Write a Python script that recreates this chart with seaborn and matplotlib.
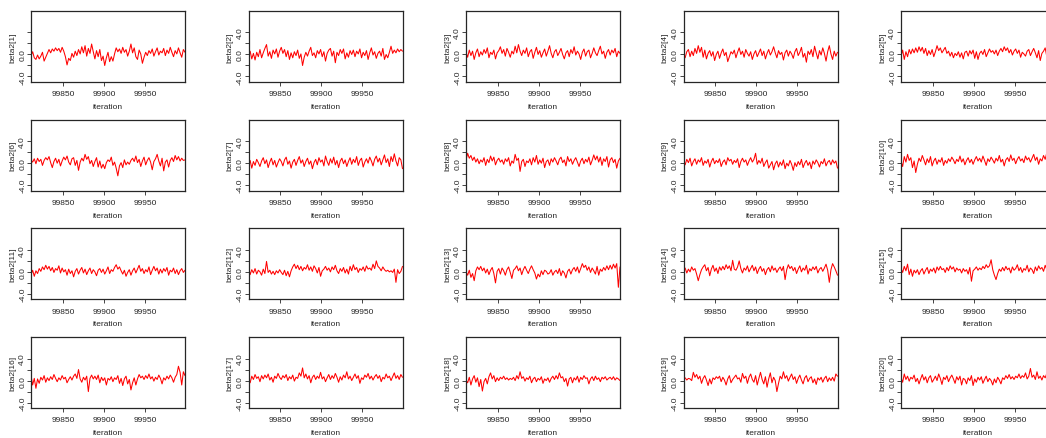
import numpy as np
import pandas as pd
import seaborn as sns
import matplotlib
matplotlib.use("Agg")
import matplotlib.pyplot as plt

# iterations kept (every other draw of the last 190)
iterations = list(range(99811, 100000, 2))

b1 = [-0.2, 0.5, -0.6, -0.9, -0.1, -0.8, -0.3, 0.4, -1.2, -0.5,
      0.2, 0.9, 0.3, 1.0, 0.6, 1.2, 0.7, 1.1, 0.4, 1.3,
      0.6, -0.4, -1.9, -0.7, -1.1, 0.2, -0.5, 0.6, -0.2, 0.9,
      0.1, 1.4, 0.3, 1.6, -0.3, 1.1, 0.2, 1.9, 0.5, -0.8,
      0.7, -0.4, 0.9, -1.1, -0.3, -2.0, -0.6, 0.4, -1.3, -0.4,
      -1.2, 0.1, 1.2, 0.5, 1.0, 0.2, 1.3, 0.4, 0.9, -0.3,
      0.6, 1.9, 0.3, 1.2, -0.4, -0.9, 0.8, 0.1, -1.6, -0.5,
      0.4, -0.2, 0.7, 0.2, 1.0, -0.3, 0.5, 1.2, -0.1, 0.6,
      0.3, 1.1, -0.2, 0.8, 0.2, 1.3, 0.4, -0.4, 0.7, 0.1,
      1.2, 0.3, -0.5, 0.9, 0.4]
b2 = [-0.1, 0.6, -0.8, 0.2, -1.0, 0.4, -0.4, 0.9, -0.6, 0.3,
      1.1, 1.8, -0.3, 0.5, -0.7, 0.8, 0.1, 1.0, -0.5, 0.6,
      1.3, 0.2, 0.9, -0.4, 0.7, -0.9, 0.3, -0.6, 0.5, -0.2,
      0.8, -0.7, 0.1, -2.0, -0.5, 0.4, -0.3, 0.6, 1.3, -0.2,
      0.3, -0.6, 0.7, 0.1, 0.9, -0.4, 0.5, -1.2, 0.2, 0.8,
      1.1, -0.3, 0.6, -1.5, 0.4, -0.2, 0.9, 0.2, 1.0, -0.8,
      0.3, -0.5, 0.7, 0.0, 0.8, -0.4, 0.6, 0.1, 1.0, -0.6,
      0.4, -0.2, 0.7, -0.9, 0.3, 1.2, -0.1, 0.5, -0.7, 0.2,
      0.6, -0.3, 1.1, -0.9, 0.0, -0.6, 0.4, 1.5, 0.2, 0.8,
      0.3, 1.0, 0.5, 0.9, 0.6]
b3 = [0.4, -0.5, 0.8, -0.2, 0.6, -0.9, 0.3, 1.0, -0.4, 0.5,
      -0.1, 0.9, 0.2, 1.2, -0.6, 0.4, 0.0, 0.8, -0.8, 0.3,
      0.7, 1.4, 0.2, 0.9, -0.3, 1.1, 0.4, -0.5, 0.6, 0.1,
      1.5, 0.3, 1.8, 0.6, -0.2, 0.8, 0.2, 1.2, -0.4, 0.5,
      0.9, -0.7, 0.4, 1.3, 0.0, 0.7, -0.5, 0.3, 1.0, -0.3,
      0.6, 1.6, 0.2, -0.6, 0.5, 0.9, -0.2, 0.4, 1.1, 0.0,
      -0.8, 0.3, 0.7, -0.4, 0.9, 0.2, 1.4, -0.1, 0.6, 0.1,
      -0.9, 0.4, 1.0, -0.3, 0.5, 0.8, -0.6, 0.2, 1.2, 0.3,
      -0.2, 0.7, 1.5, 0.1, 0.6, -0.7, 0.4, 0.9, -0.1, 0.8,
      0.3, 1.1, -0.4, 0.6, 0.2]
b4 = [0.3, -0.6, 0.5, 0.9, -0.4, 0.6, -0.2, 1.1, 0.2, 1.6,
      0.4, 1.3, -0.5, 0.8, -0.8, 0.2, 0.7, -0.3, 0.5, -1.1,
      0.0, 0.6, -0.7, 0.3, 1.0, -0.2, 0.4, -1.3, -0.4, 0.5,
      0.1, 0.8, -0.6, 0.4, 1.2, 0.0, 0.6, -0.5, 0.9, 0.2,
      -0.3, 0.5, -0.9, 0.1, 0.7, -0.4, 0.3, 1.0, -0.2, 0.6,
      -0.8, 0.2, 0.9, -0.1, 0.5, 1.4, 0.3, -0.6, 0.7, 0.0,
      0.4, -1.0, 0.3, 0.8, -0.3, 0.6, 0.1, -0.7, 0.5, 1.1,
      -0.2, 0.4, 1.3, -0.5, 0.2, -1.4, 0.6, 0.0, 0.9, -0.4,
      1.5, 0.3, -0.8, 0.7, -0.1, 1.2, 0.2, -1.2, 0.5, 1.6,
      0.1, -0.9, 0.6, -0.3, 0.4]
b5 = [-0.3, 0.8, -0.9, 0.5, -0.4, 0.9, 0.1, 1.0, 0.3, 1.2,
      0.4, 1.4, 0.6, 1.3, 0.2, 1.1, -0.2, 0.7, 0.0, 0.9,
      -0.4, 0.5, 1.6, 0.7, 1.2, 0.3, 0.8, 1.3, 0.2, 0.6,
      -0.3, 0.4, -0.6, 0.2, -0.2, 0.5, -0.5, 0.3, -0.8, 0.4,
      0.6, -0.3, 0.7, 0.1, 0.8, -0.7, 0.5, -0.9, 0.2, 0.6,
      0.0, 0.9, -0.4, 0.3, 1.0, 0.4, 0.7, 0.1, 0.8, -0.2,
      0.6, 1.1, 0.5, 1.4, 0.7, 1.2, 0.3, 0.9, -0.1, 0.6,
      1.0, 0.2, 0.8, -0.5, 0.4, 0.1, -0.3, 0.6, 0.9, -0.2,
      0.5, 1.1, 0.3, -0.6, 0.7, -1.1, 0.2, 0.6, 1.2, -0.4,
      0.9, 0.5, 1.3, 0.2, 0.8]
b6 = [0.6, 0.2, 0.8, -0.1, 0.9, 0.3, 0.7, -0.4, 0.5, 1.0,
      0.6, 1.2, 0.1, -0.8, 0.3, 0.9, 0.0, 0.7, -0.5, 0.4,
      1.1, 0.6, 1.3, 0.2, -0.3, 0.8, 1.0, -0.4, 0.5, -1.3,
      0.2, 0.9, 0.4, 1.6, 0.7, 1.2, -0.1, 0.5, -0.6, 0.3,
      1.0, -0.7, 0.4, -0.9, -0.2, -1.0, 0.1, 0.6, 0.3, 1.1,
      -0.4, 0.2, -0.9, -2.3, -0.5, 0.1, -0.8, 0.6, -0.3, 0.2,
      -0.2, 0.5, 0.9, 0.3, 1.3, 0.1, 0.7, -0.6, 0.4, 1.1,
      -0.3, 0.5, 1.0, 0.2, -1.2, 0.3, 0.8, 1.6, 0.4, -0.5,
      0.9, -1.4, 0.2, 0.6, -0.7, 0.5, 1.0, 0.3, 1.4, 0.6,
      1.2, 0.4, 0.9, 0.5, 0.6]
b7 = [-0.2, 0.5, -0.9, 0.3, -0.4, 0.7, 0.1, -0.6, 0.4, 1.0,
      -0.1, 0.6, -0.8, 0.2, 0.9, -0.3, 0.5, -0.7, 0.1, 0.8,
      0.3, -0.5, 0.6, 1.1, -0.2, 0.4, -0.9, 0.2, 0.7, -0.4,
      0.5, 1.2, 0.0, 0.6, -0.6, 0.3, 0.9, -0.2, 0.4, -1.0,
      0.1, 0.7, -0.3, 1.0, 0.2, 0.6, -0.5, 1.3, 0.3, -0.4,
      0.8, 0.0, 1.1, -0.3, 0.5, -0.8, 0.4, 0.9, -0.1, 0.6,
      -0.6, 0.3, 1.0, -0.2, 0.7, 0.1, 1.2, -0.4, 0.5, 0.9,
      -0.7, 0.2, 0.8, 0.0, 1.1, 0.4, -0.5, 0.7, 1.3, 0.2,
      0.9, -0.3, 0.6, 1.5, 0.1, 0.8, -0.6, 1.2, 0.3, 1.7,
      0.4, -0.5, 1.0, 0.6, -1.0]
b8 = [0.6, 1.8, 0.9, 1.4, 0.5, 1.1, 0.2, 0.8, -0.1, 0.6,
      0.2, 1.0, -0.4, 0.7, 0.1, 1.3, 0.4, 1.1, -0.3, 0.5,
      0.9, 0.2, 0.6, -0.2, 0.8, 0.3, 1.0, -0.5, 0.4, 0.0,
      1.6, 0.5, 0.9, -1.5, 0.3, 0.7, -0.6, 0.4, 0.1, 0.8,
      -0.3, 1.0, 0.2, 1.4, -0.2, 0.6, 0.0, 0.9, -0.8, 0.3,
      0.6, -0.4, 0.8, 0.2, 1.0, 0.4, -0.3, 0.7, 1.1, 0.1,
      0.6, -0.5, 1.2, 0.3, 0.8, -0.2, 0.5, 1.0, 0.2, -0.6,
      0.4, 0.9, -0.1, 0.7, 0.2, 1.1, -0.3, 0.5, 1.5, 0.6,
      1.3, 0.2, 1.1, -0.4, 0.8, 0.3, 1.2, -0.7, 0.6, 1.0,
      0.1, 0.7, -0.9, 0.4, 0.9]
b9 = [0.5, -0.3, 0.7, 0.1, 0.9, -0.5, 0.3, 0.8, -0.2, 0.6,
      0.2, 1.0, -0.4, 0.4, 0.0, 0.7, -0.7, 0.3, 0.9, -0.1,
      0.5, 0.1, 0.8, -0.6, 0.2, 0.6, -0.3, 1.0, 0.4, 0.7,
      -0.2, 0.5, 0.1, 0.8, -0.8, 0.3, 0.9, 0.2, 0.6, -0.4,
      0.4, 1.0, 0.2, 0.7, 1.8, -0.2, 0.5, 0.0, 0.9, -0.6,
      0.1, 0.6, -0.9, -0.3, 0.3, -1.2, -0.1, 0.4, -0.7, 0.2,
      -0.4, 0.6, -1.0, 0.0, -0.5, 0.5, -0.2, -1.3, 0.1, -0.6,
      0.3, -0.3, 0.7, -0.8, 0.0, 0.5, -0.4, 0.2, -1.0, 0.4,
      -0.2, 0.6, 0.1, -0.7, 0.3, -0.1, 0.8, -0.5, 0.2, 0.5,
      -0.3, 0.6, 0.0, 0.4, -0.9]
b10 = [0.3, -0.6, 1.2, 0.2, 1.6, 0.5, 1.0, -0.8, 0.4, -1.7,
       -0.2, 0.9, 0.3, 1.4, 0.6, -0.3, 0.8, 0.1, 1.2, -0.5,
       0.4, 0.9, -0.2, 0.6, 0.2, 1.0, -0.4, 0.5, 0.0, 0.8,
       0.3, 1.1, 0.6, -0.1, 0.7, 0.3, 1.3, 0.2, 0.8, -0.3,
       0.5, 1.0, 0.1, 0.7, -0.2, 0.6, 1.2, 0.4, 0.9, 0.2,
       1.3, 0.5, -0.4, 0.8, 0.3, 1.1, 0.6, 0.0, 0.9, 0.4,
       1.4, 0.2, 0.7, -0.5, 0.6, 1.0, 0.3, 1.5, 0.5, 0.9,
       -0.1, 0.7, 1.2, 0.4, 0.8, 0.1, 1.3, 0.6, 1.0, 0.2,
       0.9, 1.6, 0.5, 1.1, -0.2, 0.8, 0.4, 1.4, 0.7, 1.9,
       0.6, 1.2, 0.3, 1.0, 0.5]
b11 = [-0.5, 0.3, -0.8, 0.2, -0.3, 0.6, 0.1, 0.9, 0.4, 1.2,
       0.5, 1.0, 0.2, 0.8, -0.1, 0.6, 0.3, 1.1, -0.2, 0.7,
       0.0, 0.4, -0.6, 0.5, -0.3, 0.2, -0.9, 0.1, 0.6, -0.4,
       0.3, 0.8, -0.2, 0.5, -0.5, 0.2, 0.7, -0.3, 0.4, 0.0,
       -0.7, 0.3, 0.6, -0.1, 0.5, -0.4, 0.2, 0.9, -0.3, 0.4,
       0.1, 0.8, 1.3, 0.5, 0.9, 0.2, -0.4, 0.3, -0.8, -0.1,
       0.4, -0.6, 0.2, 0.7, -0.2, 0.5, 1.2, 0.1, 0.6, -0.3,
       0.4, 0.0, 0.9, -0.5, 0.3, 1.0, 0.2, 0.7, -0.4, 0.5,
       -0.2, 0.6, 0.1, 0.8, -0.6, 0.3, 0.0, 0.7, -0.3, 0.4,
       -0.5, 0.2, 0.6, -0.1, 0.3]
b12 = [0.8, -0.5, 0.4, -0.2, 0.6, -0.4, 0.3, 0.0, -0.6, 0.5,
       -0.3, 1.9, -0.1, 0.3, -0.4, 0.1, -0.5, 0.2, -0.2, 0.4,
       -0.1, -0.5, 0.3, -0.7, 0.1, -0.9, 0.2, 0.9, 1.4, 0.6,
       1.2, 0.4, 1.0, 0.2, 0.8, 0.5, 1.3, 0.3, 0.9, 0.1,
       1.1, 0.6, -0.2, 0.8, -0.8, 0.2, 0.5, 1.0, 0.3, 0.7,
       0.0, 0.9, 0.4, 1.2, 0.2, -0.3, 0.6, 0.1, 0.8, -0.2,
       0.5, -0.4, 1.0, 0.2, 1.3, 0.4, 0.8, -0.1, 0.6, 0.3,
       0.9, 0.1, 1.1, 0.5, 0.7, 0.3, 1.4, 0.6, 2.0, 1.0,
       0.7, 0.2, 0.9, 0.4, 0.1, 0.3, 0.0, 0.2, -0.1, 0.5,
       -1.9, 0.4, -0.3, 0.1, 1.0]
b13 = [0.0, -0.6, 0.3, -1.0, -0.3, -1.6, 0.2, 0.9, 0.4, 1.0,
       0.2, 0.7, -0.2, 0.5, -0.5, 0.3, 0.8, -0.3, -2.0, 0.1,
       0.6, -0.4, 0.7, 0.2, -0.6, 0.4, 0.9, -0.1, -1.2, 0.3,
       0.6, 1.1, 0.2, 0.7, -0.5, 0.4, 1.0, 0.3, -0.3, 0.5,
       1.1, 0.4, -0.2, -1.3, -0.4, -0.9, 0.2, -0.5, 0.3, 0.1,
       -0.4, -0.2, 0.4, -0.6, 0.0, 0.3, -0.3, 0.6, -0.7, 0.2,
       -0.2, -1.1, 0.1, 0.5, -0.4, 0.4, 0.8, 0.1, 0.9, -0.2,
       0.6, 1.5, 0.8, 1.2, 0.3, 0.9, -0.1, 0.7, 0.2, -0.4,
       1.0, -0.6, 0.5, 0.1, 0.8, 0.3, 1.1, 0.4, 1.2, 0.5,
       1.4, 0.7, 1.5, -2.8, 0.9]
b14 = [0.1, 0.7, -0.2, 0.5, 0.0, 0.9, 0.3, 0.6, -0.4, -1.6,
       -0.5, 0.4, 0.9, 1.3, 0.2, 0.8, -0.7, 0.5, 1.2, 0.1,
       0.7, -0.3, 0.9, 0.3, 1.0, 0.4, 1.3, 0.6, 1.1, 0.2,
       2.1, 0.5, 0.3, 0.9, 2.0, 0.6, -0.2, 0.7, 0.3, 1.1,
       0.0, 0.6, 1.2, 0.2, 0.9, -0.3, 0.5, 1.0, 0.1, 0.6,
       -0.5, 0.4, 0.8, 0.0, 1.1, 0.3, 0.7, -0.1, 0.5, 0.9,
       0.2, 1.0, -1.4, 0.4, 1.3, 0.6, 1.0, 0.2, 0.8, -0.3,
       0.5, 1.1, 0.0, 0.7, 0.3, 1.2, -0.4, 0.6, 0.2, 0.9,
       0.4, 1.0, -0.2, 0.5, 0.8, 0.1, 0.7, 1.4, 0.3, -1.9,
       0.4, 1.5, 0.9, 0.2, -0.6]
b15 = [0.6, -0.1, 1.0, 0.2, 1.4, -0.5, 0.5, -0.8, 0.3, -0.2,
       0.4, -0.5, 0.2, 0.6, -0.4, 0.3, 0.8, -0.3, 0.5, 0.1,
       0.7, -0.2, 0.9, 0.3, 1.0, 0.4, 0.6, -0.1, 0.8, 0.2,
       1.1, 0.5, 0.9, 0.0, 0.7, 0.3, 0.5, -0.2, 0.6, 0.1,
       0.4, -0.4, 0.8, -1.7, 0.2, 0.5, 0.9, 0.3, 0.7, 0.4,
       1.0, 0.6, 1.3, 0.8, 1.1, 2.2, 0.4, -0.6, -1.4, -0.3,
       0.5, 0.1, 0.8, 0.2, 1.0, 0.4, 0.7, -0.2, 0.9, 0.3,
       0.6, 1.3, 0.2, 0.8, -0.1, 0.6, 0.3, 1.2, 0.0, 0.7,
       0.4, -0.3, 0.9, 0.2, 1.1, 0.5, 0.8, 0.1, 1.2, 0.4,
       0.9, 0.3, 1.0, 0.6, 0.8]
b16 = [0.9, -0.8, 0.4, -1.4, 0.3, -0.5, 0.6, 0.1, 0.9, -0.3,
       0.5, 0.0, 0.7, 0.2, 1.1, 0.4, -0.2, 0.5, 0.1, 0.9,
       0.3, 0.6, -0.4, 0.2, 0.7, 0.1, 0.8, 1.2, 0.4, 2.0,
       0.3, -0.3, 0.6, 0.1, 0.8, -2.0, 0.4, 1.0, 0.3, 0.8,
       0.2, 1.0, -0.4, 0.6, 0.0, 0.5, -0.8, 0.4, 0.1, 0.7,
       -0.2, 0.5, 0.2, 0.9, -0.5, 0.4, -0.9, 0.3, 0.8, -0.6,
       0.2, -1.7, -0.4, 0.5, -0.8, 0.3, 1.1, 0.5, 0.8, 0.2,
       0.9, 0.4, 1.2, 0.3, 0.7, -0.1, 0.6, 0.2, 1.0, 0.4,
       -0.6, 0.5, 0.1, 0.8, 0.3, 1.0, 0.5, -0.3, 0.6, 1.1,
       2.6, 1.5, -0.8, 1.6, 0.9]
b17 = [0.5, -0.4, 0.8, 0.2, 1.1, 0.4, 0.7, -0.2, 0.9, 0.3,
       1.0, 0.5, 1.2, 0.1, 0.6, -0.3, 0.8, 0.4, 1.3, 0.6,
       0.2, 0.9, 0.5, 1.1, 0.0, 0.7, 0.3, 1.0, -0.1, 0.6,
       0.4, 1.4, 0.8, 2.3, 0.5, 1.2, 0.3, 0.9, -0.4, 0.6,
       1.0, 0.2, 0.8, 0.4, 1.5, 0.3, 0.7, -0.2, 0.5, 1.1,
       0.2, 0.9, 0.4, 1.3, 0.6, -0.3, 0.7, 0.1, 1.0, 0.5,
       1.6, 0.3, 0.8, 0.0, 0.6, 1.2, 0.4, 0.9, -0.5, 0.5,
       0.2, 1.0, 0.6, 1.3, 0.3, 0.8, 0.1, 0.7, 1.1, 0.4,
       0.9, -0.2, 0.6, 0.3, 1.2, 0.5, 0.8, 0.0, 0.7, 1.4,
       0.4, 0.9, 0.2, 1.1, 0.6]
b18 = [0.1, -0.4, 0.6, -0.8, 0.3, 0.9, -0.3, 0.5, -1.1, 0.2,
       -1.9, -0.2, 0.4, -0.6, 0.7, 1.4, 0.3, 0.9, -0.2, 0.5,
       0.0, 0.6, 0.3, 0.8, 0.2, 0.5, 0.1, 0.4, 0.2, 0.6,
       0.0, 0.9, 0.3, 1.6, 0.4, 0.7, -0.1, 0.5, 0.2, 0.8,
       -0.4, 0.3, 0.6, -0.2, 0.4, 0.1, 0.7, -0.5, 0.3, 0.0,
       0.5, -0.3, 0.4, 0.8, 0.2, 0.9, 0.3, 1.4, 0.5, 0.7,
       -0.2, 0.4, -1.0, 0.3, 0.6, -0.4, 0.5, 0.1, 0.8, -0.3,
       0.6, 0.2, 0.9, 0.4, 0.5, -0.6, 0.3, 0.7, 0.0, 0.8,
       0.2, 0.5, -0.2, 0.6, 0.3, 0.7, 0.1, 0.4, 0.6, 0.2,
       0.7, 0.1, 0.5, 0.3, 0.0]
b19 = [0.2, 0.5, 0.1, 0.4, 0.3, 0.0, 1.5, 0.6, 1.1, 0.3,
       0.8, -0.5, 0.4, 0.9, 0.1, -0.9, 0.3, -0.6, 0.5, 0.2,
       0.7, 0.4, 0.8, -0.2, 0.6, 0.1, -0.8, 0.3, 0.9, -0.4,
       0.2, 0.6, 1.0, 0.3, 0.5, -0.3, 1.3, 0.4, 0.8, -0.5,
       0.6, 1.2, 0.2, -0.3, 0.9, -0.8, 0.4, 1.5, 0.2, -0.6,
       0.7, -1.2, 0.3, 1.4, -0.4, 0.6, 0.0, -2.0, -0.5, 0.8,
       0.3, 1.6, 0.4, 0.9, -0.1, 0.6, 1.2, 0.2, 0.7, -0.5,
       0.4, 1.0, 0.1, -0.6, 0.5, 0.9, -0.2, 0.4, 0.7, -0.4,
       0.3, -0.7, 0.5, 0.1, 0.6, -0.3, 0.4, 0.8, -0.2, 0.5,
       0.0, 0.6, -0.1, 1.2, 0.8]
b20 = [0.5, -0.3, 1.2, 0.2, 0.8, -0.1, 0.6, 0.3, 1.0, -0.2,
       0.4, -0.6, 0.3, 1.1, 0.1, 0.7, -0.4, 0.5, 0.9, -0.3,
       0.2, 0.8, 0.0, 1.2, 0.4, -0.7, 0.6, 0.2, 0.9, -0.2,
       0.5, 1.0, 0.3, -0.5, 0.7, 0.1, 0.8, -0.8, 0.4, 0.2,
       -0.6, 0.5, 0.0, 0.9, -0.9, 0.3, -0.3, 0.6, 0.1, 0.7,
       -0.5, 0.2, 0.8, -0.2, 0.4, 0.0, -0.8, 0.3, -0.4, 0.6,
       0.1, -0.6, 0.5, 0.2, 0.9, 0.4, 1.1, 0.3, 0.7, 0.2,
       0.8, 0.5, 1.2, 0.4, 0.9, 0.6, 1.4, 0.3, 0.8, 2.2,
       0.6, 1.0, 0.2, 1.6, 0.4, 0.8, 0.1, 0.9, 0.5, 1.3,
       0.3, 0.7, 0.2, 1.0, 0.5]

series = [b1, b2, b3, b4, b5, b6, b7, b8, b9, b10,
          b11, b12, b13, b14, b15, b16, b17, b18, b19, b20]
names = ['beta2[%d]' % (k + 1) for k in range(20)]

ytick_vals = [-4, -2, 0, 2, 4]
ytick_labels = ['-4.0', '', '0.0', '', '4.0']
xtick_vals = [99850, 99900, 99950]

sns.set_style('white')
plt.rcParams['font.family'] = ['Liberation Sans', 'DejaVu Sans']

W, H = 1046, 439
AW, AH = 154, 71
fig = plt.figure(figsize=(W / 100, H / 100), dpi=100)

ink = '#262626'
fs = 6

for k, (vals, name) in enumerate(zip(series, names)):
    r, c = divmod(k, 5)
    left = 31 + 217.5 * c
    top = 12 + 108.7 * r
    ax = fig.add_axes([left / W, 1 - (top + AH) / H, AW / W, AH / H])

    df = pd.DataFrame({'iteration': iterations[:len(vals)], 'value': vals})
    sns.lineplot(data=df, x='iteration', y='value', color='#ff0000',
                 linewidth=0.75, ax=ax)

    ax.set_xlim(99811, 99999)
    ax.set_ylim(-5.0, 7.9)
    ax.set_xticks(xtick_vals)
    ax.set_xticklabels([str(v) for v in xtick_vals])
    ax.set_yticks(ytick_vals)
    labels = list(ytick_labels)
    if k == 0:
        labels[-1] = ''
    ax.set_yticklabels(labels, rotation=90, va='center')

    ax.tick_params(axis='both', direction='out', length=3, width=0.6,
                   colors=ink, labelsize=fs, left=True, bottom=True)
    ax.tick_params(axis='x', pad=3)
    ax.tick_params(axis='y', pad=0.5)

    ax.set_xlabel('iteration', fontsize=fs, color=ink)
    ax.set_ylabel(name, fontsize=fs, color=ink, va='center')
    # label positions measured in pixels from the frame
    ax.xaxis.set_label_coords(0.5, -21 / AH)
    ax.yaxis.set_label_coords(-18.5 / AW, 0.5)

    for sp in ax.spines.values():
        sp.set_visible(True)
        sp.set_color(ink)
        sp.set_linewidth(0.9)

fig.savefig('out.png', dpi=100)
